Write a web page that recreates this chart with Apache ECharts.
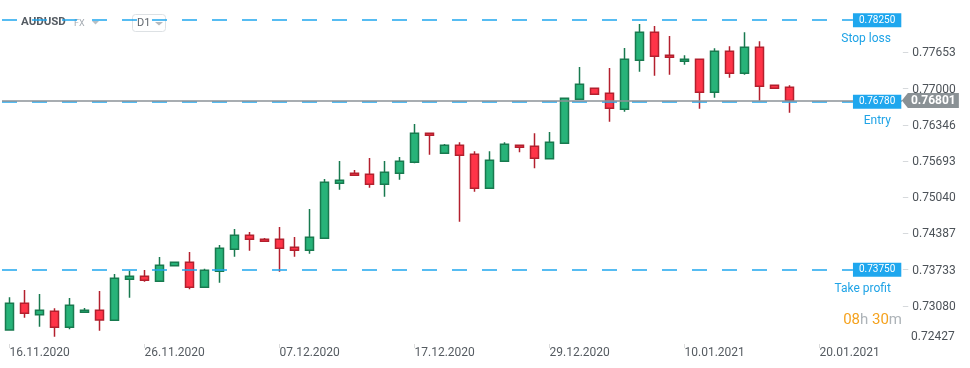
<!DOCTYPE html>
<html><head><meta charset="utf-8">
<script src="https://cdn.jsdelivr.net/npm/echarts@6/dist/echarts.min.js"></script>
<style>html,body{margin:0;padding:0;background:#fff}#c{width:970px;height:368px}</style>
</head><body><div id="c"></div>
<script>
const dates = [
'16.11.2020','17.11.2020','18.11.2020','19.11.2020','20.11.2020','22.11.2020','23.11.2020','24.11.2020','25.11.2020','26.11.2020',
'27.11.2020','29.11.2020','30.11.2020','01.12.2020','02.12.2020','03.12.2020','04.12.2020','06.12.2020','07.12.2020','08.12.2020',
'09.12.2020','10.12.2020','11.12.2020','13.12.2020','14.12.2020','15.12.2020','16.12.2020','17.12.2020','18.12.2020','20.12.2020',
'21.12.2020','22.12.2020','23.12.2020','24.12.2020','27.12.2020','28.12.2020','29.12.2020','30.12.2020','31.12.2020','03.01.2021',
'04.01.2021','05.01.2021','06.01.2021','07.01.2021','08.01.2021','10.01.2021','11.01.2021','12.01.2021','13.01.2021','14.01.2021',
'15.01.2021','17.01.2021','18.01.2021','19.01.2021','20.01.2021','21.01.2021','22.01.2021','24.01.2021','25.01.2021','26.01.2021'];

const opens = [0.72664,0.73145,0.72940,0.73001,0.72713,0.72983,0.73019,0.72839,0.73578,0.73632,
0.73542,0.73823,0.73885,0.73434,0.73722,0.74119,0.74371,0.74299,0.74299,0.74155,
0.74101,0.74317,0.75309,0.75489,0.75471,0.75291,0.75489,0.75688,0.76211,0.75850,
0.75994,0.75832,0.75219,0.75706,0.75994,0.75976,0.75752,0.76030,0.76824,0.77022,
0.76932,0.76643,0.77527,0.78032,0.77617,0.77509,0.77545,0.76950,0.77689,0.77292,
0.77761,0.77076,0.77040];
const closes = [0.73145,0.72965,0.73019,0.72713,0.73109,0.73019,0.72844,0.73596,0.73632,0.73560,
0.73830,0.73885,0.73434,0.73740,0.74137,0.74371,0.74299,0.74263,0.74137,0.74101,
0.74335,0.75327,0.75363,0.75453,0.75291,0.75507,0.75706,0.76211,0.76174,0.75994,
0.75814,0.75219,0.75724,0.76012,0.75958,0.75760,0.76048,0.76842,0.77094,0.76914,
0.76661,0.77545,0.78032,0.77599,0.77581,0.77545,0.76950,0.77689,0.77292,0.77761,
0.77058,0.77022,0.76801];
const lows = [0.72655,0.72886,0.72723,0.72543,0.72676,0.72983,0.72651,0.72839,0.73246,0.73535,
0.73542,0.73823,0.73398,0.73434,0.73517,0.73985,0.74094,0.74263,0.73715,0.73985,
0.74040,0.74317,0.75194,0.75453,0.75230,0.75067,0.75374,0.75670,0.75825,0.75850,
0.74617,0.75158,0.75219,0.75706,0.75868,0.75579,0.75752,0.76030,0.76824,0.76914,
0.76420,0.76600,0.77321,0.77249,0.77267,0.77447,0.76654,0.76852,0.77213,0.77267,
0.76798,0.77022,0.76582];
const highs = [0.73253,0.73385,0.73313,0.73055,0.73241,0.73060,0.73367,0.73674,0.73733,0.73746,
0.73980,0.73885,0.74070,0.73769,0.74196,0.74485,0.74431,0.74323,0.74521,0.74341,
0.74846,0.75387,0.75711,0.75549,0.75765,0.75711,0.75783,0.76378,0.76211,0.76018,
0.76048,0.75886,0.75886,0.76048,0.75994,0.76211,0.76234,0.76842,0.77406,0.77022,
0.77388,0.77749,0.78181,0.78145,0.77965,0.77617,0.77545,0.77743,0.77779,0.78032,
0.77869,0.77076,0.77076];

const yTicks = [0.72427,0.73080,0.73733,0.74387,0.75040,0.75693,0.76346,0.77000,0.77653];
const levelNames = ['Stop loss','Entry','Take profit'];
const levelValues = [0.78250,0.76780,0.73750];
const lastPrice = 0.76801;
const symbolName = 'AUDUSD';
const countdown = ['08','30'];

const candleData = opens.map((o,i)=>[o, closes[i], lows[i], highs[i]]);
const LINE_END = 56.73;

const chart = echarts.init(document.getElementById('c'), null, {renderer:'canvas'});
chart.setOption({
  animation:false,
  backgroundColor:'#ffffff',
  textStyle:{fontFamily:'Roboto'},
  grid:{left:2,right:68,top:0,bottom:24,containLabel:false},
  xAxis:[{
    type:'category', data:dates, boundaryGap:true,
    axisLine:{show:false},
    axisTick:{show:true, interval:8, alignWithLabel:true, length:4, lineStyle:{color:'#dcdcdc'}},
    axisLabel:{interval:8, align:'left', margin:3, fontSize:12, color:'#555b61'},
    splitLine:{show:false}
  },{
    type:'value', min:0, max:60, show:false
  }],
  yAxis:{
    type:'value', position:'right', min:0.72411, max:0.78614, scale:true,
    splitLine:{show:false}, axisLine:{show:false},
    axisTick:{show:false},
    axisLabel:{customValues:yTicks, margin:0, fontSize:12, color:'#4c5258',
      formatter:(v)=>{ const s = v.toFixed(5); return v === yTicks[0] ? '{up|'+s+'}' : '{t|\u2013}{v|'+s+'}'; },
      rich:{
        t:{fontSize:11, color:'#cfd3d6'},
        v:{fontSize:12, color:'#4c5258', padding:[0,0,0,3]},
        up:{fontSize:12, color:'#4c5258', padding:[0,0,12,9]}
      }}
  },
  series:[{
    type:'candlestick', data:candleData, xAxisIndex:0, yAxisIndex:0, barWidth:9,
    itemStyle:{color:'#27b379', color0:'#ff3448', borderColor:'#187a4f', borderColor0:'#b3202e', borderWidth:1.5}
  },{
    type:'line', xAxisIndex:1, yAxisIndex:0, data:[], clip:false, silent:true,
    markLine:{
      silent:true, symbol:['none','none'],
      lineStyle:{type:[15,15], color:'#1fa7ee', width:1.5},
      label:{show:true, position:'end', distance:0, formatter:'{b}', color:'#fff', fontSize:10,
        backgroundColor:'#1fa7ee', padding:[2,6,1,6], lineHeight:11},
      data: levelValues.map(v=>[{name:v.toFixed(5), coord:[0,v]},{coord:[LINE_END,v]}])
    },
    markPoint:{
      silent:true, symbol:'circle', symbolSize:1, itemStyle:{color:'rgba(0,0,0,0)'},
      label:{show:true, position:'inside', align:'right', verticalAlign:'middle', offset:[38,19],
        color:'#1fa3e6', fontSize:12, formatter:'{b}'},
      data: levelNames.map((n,i)=>({name:n, coord:[LINE_END, levelValues[i]]}))
    }
  },{
    type:'line', xAxisIndex:1, yAxisIndex:0, data:[], clip:false, silent:true,
    markLine:{
      silent:true, symbol:['none','none'],
      lineStyle:{type:'solid', color:'#8b9297', width:1.5},
      label:{show:false},
      data:[[{coord:[0,lastPrice]},{coord:[60,lastPrice]}]]
    },
    markPoint:{
      silent:true,
      symbol:'path://M0,7.5L6,0L57,0L57,15L6,15Z', symbolSize:[57,15], symbolOffset:[28.5,0],
      itemStyle:{color:'#8a9195'},
      label:{show:true, position:'inside', offset:[3,0], color:'#fff', fontSize:12, fontWeight:'bold',
        formatter:(p)=>p.value.toFixed(5)},
      data:[{value:lastPrice, coord:[59.99,lastPrice]}]
    }
  }],
  graphic:[
    {type:'text', left:21, top:16, z:0, style:{text:symbolName, font:'bold 11.5px Roboto', fill:'#545b62'}},
    {type:'text', left:74, top:19, z:0, style:{text:'FX', font:'9px Roboto', fill:'#a3aab1'}},
    {type:'polygon', z:0, shape:{points:[[92,21],[99,21],[95.5,24.5]]}, style:{fill:'#b9bfc4'}},
    {type:'rect', z:0, shape:{x:132.5,y:14.5,width:33,height:17,r:3}, style:{fill:'rgba(0,0,0,0)', stroke:'#dde1e4', lineWidth:1}},
    {type:'text', left:137, top:18, z:0, style:{text:'D1', font:'11px Roboto', fill:'#5f666d'}},
    {type:'polygon', z:0, shape:{points:[[155,22],[163,22],[159,25.5]]}, style:{fill:'#b3b9be'}},
    {type:'text', right:68, top:313, z:0, style:{
      text:'{o|'+countdown[0]+'}{g|h }{o|'+countdown[1]+'}{g|m}',
      rich:{o:{fill:'#f5a21e', fontSize:15, fontFamily:'Roboto'}, g:{fill:'#adb3b8', fontSize:15, fontFamily:'Roboto'}}}}
  ]
});
</script>
</body></html>
